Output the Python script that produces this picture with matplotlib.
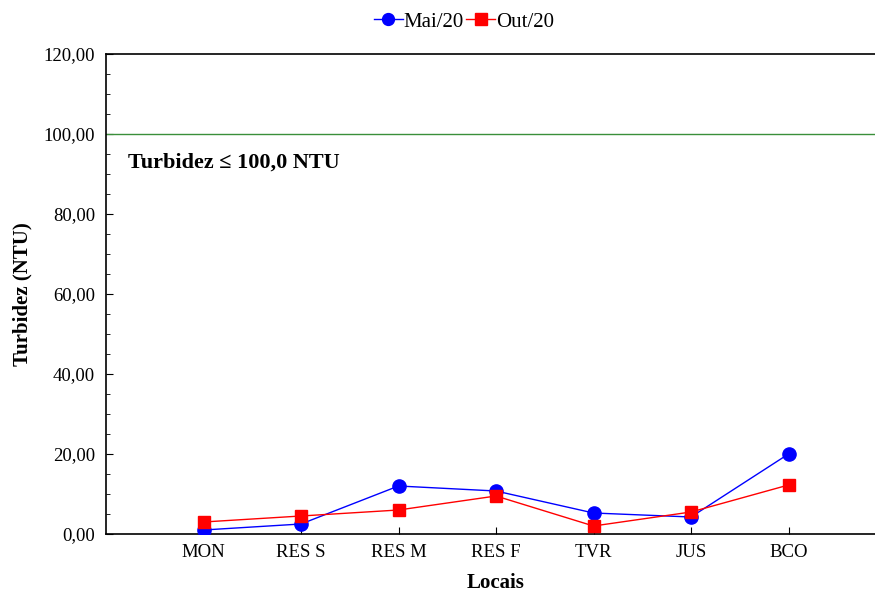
import matplotlib
matplotlib.use("Agg")
import matplotlib.pyplot as plt
from matplotlib.ticker import MultipleLocator, FuncFormatter

locais = ["MON", "RES S", "RES M", "RES F", "TVR", "JUS", "BCO"]
mai20 = [1.0, 2.5, 12.0, 10.75, 5.25, 4.25, 20.0]
out20 = [3.0, 4.5, 6.0, 9.5, 2.0, 5.5, 12.25]
limite = 100.0

plt.rcParams["font.family"] = ["Liberation Serif", "DejaVu Serif"]

fig = plt.figure(figsize=(8.75, 5.92), dpi=100)
ax = fig.add_axes([106 / 875, 58 / 592, 780 / 875, 480 / 592])

x = list(range(1, len(locais) + 1))
ax.plot(x, mai20, color="#0000ff", lw=1.0, marker="o", ms=9.5,
        markeredgecolor="#0000ff", label="Mai/20", zorder=3)
ax.plot(x, out20, color="#ff0000", lw=1.0, marker="s", ms=9,
        markeredgecolor="#ff0000", label="Out/20", zorder=3)

ax.axhline(limite, color="#3a8f3a", lw=1.0, zorder=2)
ax.text(128 / 875, 1 - 163 / 592, "Turbidez \u2264 100,0 NTU", transform=fig.transFigure,
        fontsize=16, fontweight="bold", va="center", ha="left")

ax.set_xlim(0, 8)
ax.set_ylim(0, 120)
ax.set_xticks(x)
ax.set_xticklabels(locais)
ax.yaxis.set_major_locator(MultipleLocator(20))
ax.yaxis.set_minor_locator(MultipleLocator(5))
ax.yaxis.set_major_formatter(FuncFormatter(lambda v, p: f"{v:.2f}".replace(".", ",")))
ax.tick_params(axis="both", which="both", direction="in", labelsize=13.5)
ax.tick_params(axis="y", which="major", length=5, width=0.8, pad=8)
ax.tick_params(axis="y", which="minor", length=3, width=0.6)
ax.tick_params(axis="x", which="major", length=5, width=0.8, pad=7)

for s in ax.spines.values():
    s.set_linewidth(1.2)

ax.set_xlabel("Locais", fontsize=15, fontweight="bold", labelpad=9)
ax.set_ylabel("Turbidez (NTU)", fontsize=15, fontweight="bold", labelpad=8)

fig.legend(loc="center", bbox_to_anchor=(464 / 875, 1 - 22 / 592), ncol=2,
           frameon=False, fontsize=15, handlelength=1.4, handletextpad=0.05,
           columnspacing=0.1, markerscale=0.9)

fig.savefig("out.png", dpi=100)
